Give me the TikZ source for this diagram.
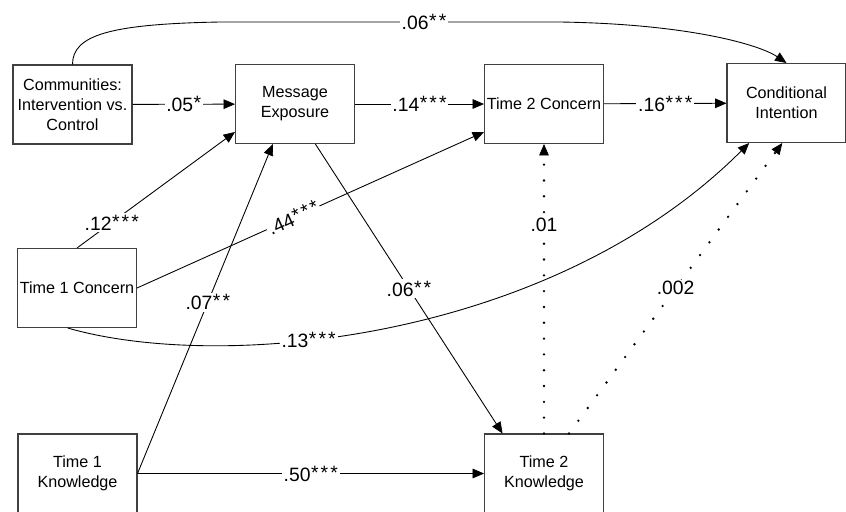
\documentclass[tikz,border=0pt]{standalone}
\usepackage{fontspec}
\setmainfont{Liberation Sans}
\usepackage{tikz}
\usetikzlibrary{arrows.meta}
\newcommand{\sigst}[1]{\kern0.3pt\raisebox{1.2pt}{\fontsize{11}{11}\selectfont#1}}
\newcommand{\st}{*\kern1.2pt}
\tikzstyle{construct}=[draw=black!75, line width=0.6pt, minimum width=2.38cm, minimum height=1.58cm, inner sep=0pt, align=center, font=\fontsize{9.2}{11.3}\selectfont]
\tikzstyle{coefficient}=[fill=white, inner sep=1pt, font=\fontsize{11}{12}\selectfont]
\tikzstyle{effect}=[line width=0.5pt, -{Triangle[length=6.5pt, width=5.5pt, line width=0.4pt]}]
\tikzstyle{noeffect}=[line width=1.5pt, line cap=round, dash pattern=on 0pt off 9pt, -{Triangle[length=6.5pt, width=5.5pt, line width=0.4pt]}]

\begin{document}
\begin{tikzpicture}[x=0.02cm, y=-0.02cm]
		\useasboundingbox (0,0) rectangle (846,511);
		\node[construct] (comm) at (72.5,104.5) {Communities:\\Intervention vs.\\Control};
		\node[construct] (msg) at (295,104) {Message\\Exposure};
		\node[construct] (concerntwo) at (544,104) {Time 2 Concern};
		\node[construct] (intent) at (786.5,103) {Conditional\\Intention};
		\node[construct] (concernone) at (77,288) {Time 1 Concern};
		\node[construct] (knowone) at (77.5,473.5) {Time 1\\Knowledge};
		\node[construct] (knowtwo) at (544,473.5) {Time 2\\Knowledge};
		\draw[effect] (comm.north) .. controls (72.5,35) and (110,24) .. (220,22) -- node[coefficient, pos=0.6] {.06\sigst{\st*}} (560,22) .. controls (690,24) and (760,45) .. (intent.north);
		\draw[effect] (comm) -- node[coefficient] {.05\sigst{*}} (msg);
		\draw[effect] (msg) -- node[coefficient] {.14\sigst{\st\st*}} (concerntwo);
		\draw[effect] (concerntwo) -- node[coefficient] {.16\sigst{\st\st*}} (intent);
		\draw[effect] (concernone.north) -- node[coefficient, pos=0.22] {.12\sigst{\st\st*}} (msg.-155);
		\draw[effect] (concernone.east) -- node[coefficient, sloped, pos=0.45] {.44\sigst{\st\st*}} (concerntwo.-155);
		\draw[effect] (concernone.-103) .. controls (220,372) and (550,342) .. node[coefficient, pos=0.39] {.13\sigst{\st\st*}} (intent.-133);
		\draw[effect] (knowone.east) -- node[coefficient, pos=0.52] {.07\sigst{\st*}} (msg.-119);
		\draw[effect] (msg.-63) -- node[coefficient] {.06\sigst{\st*}} (knowtwo.136);
		\draw[effect] (knowone) -- node[coefficient] {.50\sigst{\st\st*}} (knowtwo);
		\draw[noeffect] (knowtwo) -- node[coefficient, pos=0.72] {.01} (concerntwo);
		\draw[noeffect] (knowtwo.58) -- node[coefficient] {.002} (intent.-96);
	\end{tikzpicture}
\end{document}
